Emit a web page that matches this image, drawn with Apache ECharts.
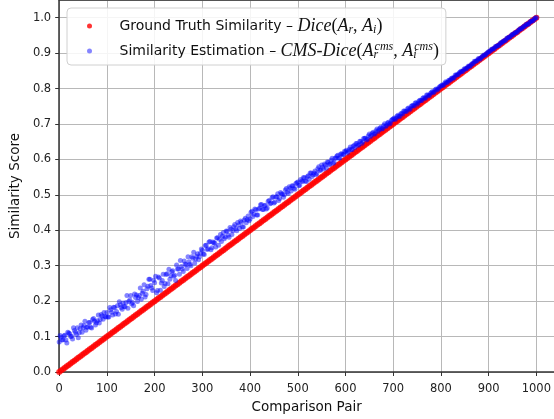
<!DOCTYPE html>
<html><head><meta charset="utf-8">
<script src="https://cdn.jsdelivr.net/npm/echarts@6/dist/echarts.min.js"></script>
<style>html,body{margin:0;padding:0;background:#fff}#c{width:554px;height:419px}</style>
</head><body><div id="c"></div>
<script>
const pairIndex = [
0,4,8,12,16,20,24,28,32,36,40,44,48,52,56,60,64,68,72,76,80,84,88,92,96,
100,104,108,112,116,120,124,128,132,136,140,144,148,152,156,160,164,168,172,176,180,184,188,192,196,
200,204,208,212,216,220,224,228,232,236,240,244,248,252,256,260,264,268,272,276,280,284,288,292,296,
300,304,308,312,316,320,324,328,332,336,340,344,348,352,356,360,364,368,372,376,380,384,388,392,396,
400,404,408,412,416,420,424,428,432,436,440,444,448,452,456,460,464,468,472,476,480,484,488,492,496,
500,504,508,512,516,520,524,528,532,536,540,544,548,552,556,560,564,568,572,576,580,584,588,592,596,
600,604,608,612,616,620,624,628,632,636,640,644,648,652,656,660,664,668,672,676,680,684,688,692,696,
700,704,708,712,716,720,724,728,732,736,740,744,748,752,756,760,764,768,772,776,780,784,788,792,796,
800,804,808,812,816,820,824,828,832,836,840,844,848,852,856,860,864,868,872,876,880,884,888,892,896,
900,904,908,912,916,920,924,928,932,936,940,944,948,952,956,960,964,968,972,976,980,984,988,992,996,
1000];
const groundTruth = [
0,0.004,0.008,0.012,0.016,0.02,0.024,0.028,0.032,0.036,0.04,0.044,0.048,0.052,0.056,0.06,0.064,0.068,0.072,0.076,0.08,0.084,0.088,0.092,0.096,
0.1,0.104,0.108,0.112,0.116,0.12,0.124,0.128,0.132,0.136,0.14,0.144,0.148,0.152,0.156,0.16,0.164,0.168,0.172,0.176,0.18,0.184,0.188,0.192,0.196,
0.2,0.204,0.208,0.212,0.216,0.22,0.224,0.228,0.232,0.236,0.24,0.244,0.248,0.252,0.256,0.26,0.264,0.268,0.272,0.276,0.28,0.284,0.288,0.292,0.296,
0.3,0.304,0.308,0.312,0.316,0.32,0.324,0.328,0.332,0.336,0.34,0.344,0.348,0.352,0.356,0.36,0.364,0.368,0.372,0.376,0.38,0.384,0.388,0.392,0.396,
0.4,0.404,0.408,0.412,0.416,0.42,0.424,0.428,0.432,0.436,0.44,0.444,0.448,0.452,0.456,0.46,0.464,0.468,0.472,0.476,0.48,0.484,0.488,0.492,0.496,
0.5,0.504,0.508,0.512,0.516,0.52,0.524,0.528,0.532,0.536,0.54,0.544,0.548,0.552,0.556,0.56,0.564,0.568,0.572,0.576,0.58,0.584,0.588,0.592,0.596,
0.6,0.604,0.608,0.612,0.616,0.62,0.624,0.628,0.632,0.636,0.64,0.644,0.648,0.652,0.656,0.66,0.664,0.668,0.672,0.676,0.68,0.684,0.688,0.692,0.696,
0.7,0.704,0.708,0.712,0.716,0.72,0.724,0.728,0.732,0.736,0.74,0.744,0.748,0.752,0.756,0.76,0.764,0.768,0.772,0.776,0.78,0.784,0.788,0.792,0.796,
0.8,0.804,0.808,0.812,0.816,0.82,0.824,0.828,0.832,0.836,0.84,0.844,0.848,0.852,0.856,0.86,0.864,0.868,0.872,0.876,0.88,0.884,0.888,0.892,0.896,
0.9,0.904,0.908,0.912,0.916,0.92,0.924,0.928,0.932,0.936,0.94,0.944,0.948,0.952,0.956,0.96,0.964,0.968,0.972,0.976,0.98,0.984,0.988,0.992,0.996,
1.0];
const estimate = [
0.085,0.098,0.091,0.104,0.082,0.110,0.100,0.093,0.117,0.106,0.097,0.122,0.112,0.131,0.118,0.127,0.140,0.124,0.151,0.133,0.145,0.138,0.162,0.149,0.157,
0.168,0.155,0.176,0.161,0.182,0.171,0.163,0.190,0.177,0.185,0.196,0.180,0.203,0.192,0.187,0.210,0.199,0.216,0.205,0.228,0.212,0.235,0.262,0.244,0.230,
0.252,0.224,0.268,0.231,0.258,0.241,0.275,0.249,0.262,0.283,0.270,0.258,0.291,0.276,0.298,0.284,0.305,0.292,0.311,0.300,0.321,0.308,0.327,0.317,0.335,
0.344,0.332,0.358,0.348,0.368,0.351,0.365,0.353,0.379,0.375,0.368,0.394,0.381,0.397,0.380,0.403,0.399,0.416,0.399,0.415,0.426,0.409,0.429,0.421,0.440,
0.432,0.454,0.445,0.458,0.443,0.462,0.473,0.459,0.471,0.463,0.484,0.477,0.495,0.480,0.495,0.484,0.507,0.502,0.500,0.518,0.504,0.519,0.526,0.519,0.532,
0.536,0.527,0.539,0.549,0.539,0.551,0.544,0.562,0.557,0.567,0.560,0.579,0.570,0.578,0.587,0.576,0.592,0.587,0.603,0.592,0.604,0.612,0.604,0.616,0.614,
0.622,0.618,0.629,0.627,0.637,0.634,0.645,0.641,0.651,0.649,0.660,0.655,0.667,0.664,0.674,0.671,0.681,0.679,0.688,0.686,0.696,0.693,0.703,0.700,0.710,
0.714,0.713,0.722,0.721,0.729,0.728,0.737,0.736,0.745,0.744,0.752,0.751,0.760,0.759,0.767,0.766,0.775,0.774,0.782,0.781,0.789,0.788,0.797,0.796,0.803,
0.807,0.809,0.815,0.817,0.823,0.824,0.830,0.832,0.838,0.840,0.846,0.848,0.854,0.855,0.861,0.863,0.869,0.871,0.877,0.879,0.885,0.886,0.892,0.894,0.900,
0.904,0.906,0.912,0.914,0.919,0.921,0.927,0.929,0.935,0.937,0.943,0.945,0.951,0.952,0.958,0.960,0.966,0.968,0.974,0.976,0.982,0.983,0.989,0.991,0.997,
1.000];
const midIndex = [
2,6,10,14,18,22,26,30,34,38,42,46,50,54,58,62,66,70,74,78,82,86,90,94,98,
102,106,110,114,118,122,126,130,134,138,142,146,150,154,158,162,166,170,174,178,182,186,190,194,198,
202,206,210,214,218,222,226,230,234,238,242,246,250,254,258,262,266,270,274,278,282,286,290,294,298,
302,306,310,314,318,322,326,330,334,338,342,346,350,354,358,362,366,370,374,378,382,386,390,394,398,
402,406,410,414,418,422,426,430,434,438,442,446,450,454,458,462,466,470,474,478,482,486,490,494,498,
502,506,510,514,518,522,526,530,534,538,542,546,550,554,558,562,566,570,574,578,582,586,590,594,598,
602,606,610,614,618,622,626,630,634,638,642,646,650,654,658,662,666,670,674,678,682,686,690,694,698,
702,706,710,714,718,722,726,730,734,738,742,746,750,754,758,762,766,770,774,778,782,786,790,794,798,
802,806,810,814,818,822,826,830,834,838,842,846,850,854,858,862,866,870,874,878,882,886,890,894,898,
902,906,910,914,918,922,926,930,934,938,942,946,950,954,958,962,966,970,974,978,982,986,990,994,998];
const midEstimate = [
0.103,0.090,0.102,0.090,0.112,0.108,0.101,0.125,0.112,0.125,0.111,0.133,0.125,0.143,0.126,0.140,0.126,0.148,0.144,0.139,0.161,0.148,0.158,0.168,0.155,
0.155,0.182,0.169,0.183,0.164,0.187,0.198,0.182,0.195,0.184,0.216,0.199,0.216,0.196,0.220,0.217,0.210,0.237,0.222,0.246,0.219,0.242,0.262,0.237,0.259,
0.270,0.230,0.265,0.251,0.276,0.250,0.277,0.290,0.272,0.286,0.273,0.302,0.291,0.315,0.291,0.313,0.303,0.325,0.304,0.325,0.338,0.319,0.334,0.325,0.347,
0.333,0.357,0.346,0.367,0.345,0.367,0.364,0.378,0.358,0.388,0.383,0.376,0.398,0.386,0.408,0.388,0.410,0.404,0.422,0.405,0.423,0.409,0.434,0.430,0.427,
0.451,0.439,0.460,0.443,0.460,0.472,0.459,0.469,0.460,0.482,0.475,0.492,0.477,0.494,0.503,0.490,0.503,0.493,0.514,0.508,0.523,0.511,0.525,0.516,0.534,
0.526,0.543,0.537,0.548,0.538,0.554,0.562,0.552,0.562,0.557,0.574,0.569,0.584,0.573,0.584,0.593,0.586,0.598,0.589,0.603,0.610,0.603,0.615,0.613,0.623,
0.626,0.623,0.635,0.628,0.639,0.645,0.640,0.651,0.645,0.659,0.660,0.657,0.672,0.668,0.677,0.673,0.686,0.683,0.691,0.687,0.701,0.696,0.705,0.702,0.713,
0.717,0.716,0.725,0.722,0.730,0.737,0.735,0.743,0.740,0.750,0.752,0.759,0.756,0.765,0.766,0.773,0.772,0.782,0.779,0.786,0.792,0.791,0.799,0.799,0.806,
0.810,0.811,0.819,0.818,0.824,0.829,0.829,0.838,0.838,0.844,0.849,0.849,0.857,0.857,0.864,0.864,0.871,0.877,0.877,0.884,0.883,0.890,0.895,0.896,0.902,
0.906,0.911,0.912,0.919,0.921,0.923,0.930,0.933,0.935,0.942,0.945,0.947,0.953,0.956,0.958,0.964,0.969,0.970,0.976,0.980,0.981,0.987,0.991,0.993,0.999];
const seriesNames = ['gt', 'est'];
const xTitle = 'Comparison Pair';
const yTitle = 'Similarity Score';

const SANS = '"DejaVu Sans", sans-serif';
const SERIF = '"Liberation Serif", "DejaVu Serif", serif';
const chart = echarts.init(document.getElementById('c'), null, {renderer: 'canvas'});
const legendText = {
  gt: '{t|Ground Truth Similarity – }{m|Dice}{p|(}{m|A}{sub|r}{p|, }{m|A}{sub|i}{p|)}',
  est: '{t|Similarity Estimation – }{m|CMS-Dice}{p|(}{m|A}{subz|r}{sup|cms}{p|, }{m|A}{subz|i}{sup|cms}{p|)}'
};
const estData = pairIndex.map((x, i) => [x, estimate[i]])
  .concat(midIndex.map((x, i) => [x, midEstimate[i]]));
chart.setOption({
  animation: false,
  backgroundColor: '#fff',
  grid: {left: 58, right: 0, top: 0, bottom: 46, containLabel: false},
  legend: {
    left: 67, top: 8, orient: 'vertical',
    padding: [9, 7, 4, 20], itemGap: 5,
    itemWidth: 40, itemHeight: 5, icon: 'circle',
    borderColor: '#d0d0d0', borderWidth: 1, borderRadius: 4,
    backgroundColor: 'rgba(255,255,255,0.85)',
    data: seriesNames,
    formatter: n => legendText[n],
    textStyle: {
      rich: {
        t: {fontFamily: SANS, fontSize: 14, color: '#111', lineHeight: 20, padding: [0, 0, 0, 5]},
        m: {fontFamily: SERIF, fontStyle: 'italic', fontSize: 18, color: '#111', lineHeight: 20},
        p: {fontFamily: SERIF, fontSize: 18, color: '#111', lineHeight: 20},
        sub: {fontFamily: SERIF, fontStyle: 'italic', fontSize: 12, color: '#111', lineHeight: 11, verticalAlign: 'bottom'},
        subz: {fontFamily: SERIF, fontStyle: 'italic', fontSize: 12, color: '#111', lineHeight: 11, verticalAlign: 'bottom', width: 1},
        sup: {fontFamily: SERIF, fontStyle: 'italic', fontSize: 12, color: '#111', lineHeight: 11, verticalAlign: 'top'}
      }
    }
  },
  xAxis: [{
    type: 'value', min: 0, max: 1037, interval: 100,
    name: xTitle, nameLocation: 'middle', nameGap: 28,
    nameTextStyle: {fontFamily: SANS, fontSize: 13.5, color: '#111'},
    axisLine: {show: true, lineStyle: {color: '#333', width: 1.5}},
    axisTick: {show: true, length: 4, lineStyle: {color: '#333'}},
    axisLabel: {fontFamily: SANS, fontSize: 11.5, color: '#222', margin: 11, showMaxLabel: false,
      formatter: v => String(v)},
    splitLine: {show: true, lineStyle: {color: '#b8b8b8', width: 1}}
  }, {
    type: 'value', position: 'top', min: 0, max: 1037,
    axisLine: {show: true, onZero: false, lineStyle: {color: '#333', width: 1.5}},
    axisTick: {show: false}, axisLabel: {show: false}, splitLine: {show: false}
  }],
  yAxis: {
    type: 'value', min: 0, max: 1.05, interval: 0.1,
    name: yTitle, nameLocation: 'middle', nameGap: 34,
    nameTextStyle: {fontFamily: SANS, fontSize: 13.5, color: '#111'},
    axisLine: {show: true, lineStyle: {color: '#333', width: 1.5}},
    axisTick: {show: true, length: 4, lineStyle: {color: '#333'}},
    axisLabel: {fontFamily: SANS, fontSize: 11.5, color: '#222', margin: 8, showMaxLabel: false,
      formatter: v => v.toFixed(1)},
    splitLine: {show: true, lineStyle: {color: '#b8b8b8', width: 1}}
  },
  series: [{
    name: 'gt', type: 'scatter', z: 2,
    data: pairIndex.map((x, i) => [x, groundTruth[i]]),
    symbolSize: 6, itemStyle: {color: '#ff0000'}
  }, {
    name: 'est', type: 'scatter', z: 3,
    data: estData,
    symbolSize: 5, itemStyle: {color: 'rgba(0,0,255,0.6)'}
  }]
});
</script></body></html>
